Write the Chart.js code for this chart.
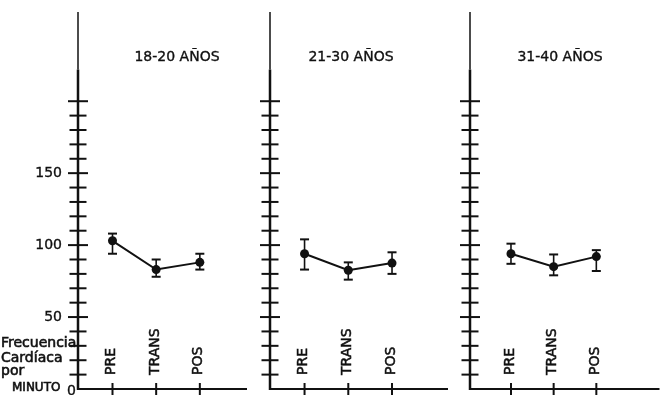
<!DOCTYPE html>
<html>
<head>
<meta charset="utf-8">
<script src="https://cdn.jsdelivr.net/npm/chart.js@4/dist/chart.umd.min.js"></script>
<style>
  html, body { margin: 0; padding: 0; background: #fff; }
  #wrap { position: relative; width: 664px; height: 395px; overflow: hidden; background: #fff; }
  canvas { position: absolute; top: 0; }
</style>
</head>
<body>
<div id="wrap">
  <canvas id="p1" width="258" height="395" style="left:0px"></canvas>
  <canvas id="p2" width="200" height="395" style="left:258px"></canvas>
  <canvas id="p3" width="206" height="395" style="left:458px"></canvas>
</div>
<script>
// Heart rate per minute (mean with low/high error limits) by phase and age group
const categories = ['PRE', 'TRANS', 'POS'];
const groups = ['18-20 AÑOS', '21-30 AÑOS', '31-40 AÑOS'];

const mean18 = [103, 83, 88];
const high18 = [108, 90, 94];
const low18  = [94, 78, 83];

const mean21 = [94, 82.5, 87.5];
const high21 = [104, 88, 95];
const low21  = [83, 76, 80];

const mean31 = [94, 85, 92];
const high31 = [101, 93.5, 96.5];
const low31  = [87, 79, 82];

const yTickMarks = [10, 20, 30, 40, 50, 60, 70, 80, 90, 100, 110, 120, 130, 140, 150, 160, 170, 180, 190, 200];
const yTickLabels = [0, 50, 100, 150];
const yAxisTitle = ['Frecuencia', 'Cardíaca', 'por', 'MINUTO'];

const INK = '#111';
const FONT = '"DejaVu Sans", sans-serif';

function seg(ctx, x1, y1, x2, y2) {
  ctx.beginPath();
  ctx.moveTo(x1, y1);
  ctx.lineTo(x2, y2);
  ctx.stroke();
}

// pen-lettered text: fill plus a thin outline for a slightly heavier stroke
function pen(ctx, text, x, y, w) {
  ctx.fillText(text, x, y);
  ctx.save();
  ctx.lineWidth = w || 0.35;
  ctx.strokeText(text, x, y);
  ctx.restore();
}

// Axes, tick marks, labels, group heading and error bars for one panel
const panelDecor = {
  id: 'panelDecor',
  beforeDatasetsDraw(chart, args, opts) {
    const { ctx, chartArea: a, scales: { x, y } } = chart;
    const x0 = a.left;
    ctx.save();
    ctx.strokeStyle = INK;
    ctx.fillStyle = INK;
    ctx.lineCap = 'butt';

    // vertical axis: fine upper stem, heavier lower part
    const yJoin = y.getPixelForValue(222);
    ctx.lineWidth = 1.5;
    seg(ctx, x0, a.top, x0, yJoin);
    ctx.lineWidth = 2.5;
    seg(ctx, x0, yJoin, x0, a.bottom + 1);

    // horizontal axis
    ctx.lineWidth = 2;
    seg(ctx, x0, a.bottom, a.right, a.bottom);

    // crossing tick marks on the vertical axis
    ctx.lineWidth = 2;
    yTickMarks.forEach(v => {
      const py = y.getPixelForValue(v);
      const half = v % 50 === 0 ? 10 : 8.5;
      seg(ctx, x0 - half, py, x0 + half, py);
    });

    // numeric labels (first panel only)
    if (opts.showYLabels) {
      ctx.font = '14px ' + FONT;
      ctx.textAlign = 'right';
      ctx.textBaseline = 'middle';
      yTickLabels.forEach(v => {
        if (v === 0) {
          pen(ctx, String(v), x0 - 2, y.getPixelForValue(v) + 2);
        } else {
          pen(ctx, String(v), x0 - 16, y.getPixelForValue(v));
        }
      });

      // axis title, stacked lines
      ctx.textAlign = 'left';
      ctx.font = '14px ' + FONT;
      pen(ctx, yAxisTitle[0], 1, 343, 0.6);
      pen(ctx, yAxisTitle[1], 1, 358, 0.6);
      pen(ctx, yAxisTitle[2], 1, 371, 0.6);
      ctx.font = '12px ' + FONT;
      pen(ctx, yAxisTitle[3], 12, 388, 0.6);
    }

    // category ticks and vertical labels
    ctx.lineWidth = 2;
    ctx.font = '14px ' + FONT;
    ctx.textAlign = 'left';
    ctx.textBaseline = 'middle';
    categories.forEach((c, i) => {
      const px = x.getPixelForValue(i + 1);
      seg(ctx, px, a.bottom - 6, px, a.bottom + 8);
      ctx.save();
      ctx.translate(px - 1, a.bottom - 14);
      ctx.rotate(-Math.PI / 2);
      pen(ctx, c, 0, 0, 0.5);
      ctx.restore();
    });

    // group heading
    ctx.font = '14px ' + FONT;
    ctx.textAlign = 'center';
    ctx.textBaseline = 'middle';
    pen(ctx, opts.title, x0 + opts.titleOffset, 57);

    // error bars
    ctx.lineWidth = 1.6;
    opts.low.forEach((lo, i) => {
      const px = x.getPixelForValue(i + 1);
      const pHi = y.getPixelForValue(opts.high[i]);
      const pLo = y.getPixelForValue(lo);
      seg(ctx, px, pHi, px, pLo);
      ctx.lineWidth = 2;
      seg(ctx, px - 4.5, pHi, px + 4.5, pHi);
      seg(ctx, px - 4.5, pLo, px + 4.5, pLo);
      ctx.lineWidth = 1.6;
    });

    ctx.restore();
  }
};

function makePanel(id, title, means, highs, lows, frame) {
  const points = means.map((v, i) => ({ x: i + 1, y: v }));
  return new Chart(document.getElementById(id), {
    type: 'line',
    data: {
      datasets: [{
        data: points,
        borderColor: INK,
        borderWidth: 2,
        pointRadius: 4.5,
        pointBackgroundColor: INK,
        pointBorderColor: INK,
        pointBorderWidth: 0,
        tension: 0,
        fill: false,
        clip: false
      }]
    },
    options: {
      responsive: false,
      animation: false,
      devicePixelRatio: 1,
      layout: { padding: { left: frame.left, right: frame.right, top: 12, bottom: 6 } },
      scales: {
        x: { type: 'linear', display: false, min: frame.xMin, max: frame.xMax },
        y: { type: 'linear', display: false, min: 0, max: 262 }
      },
      plugins: {
        legend: { display: false },
        tooltip: { enabled: false },
        panelDecor: {
          title: title,
          titleOffset: frame.titleOffset,
          showYLabels: frame.showYLabels,
          high: highs,
          low: lows
        }
      }
    },
    plugins: [panelDecor]
  });
}

makePanel('p1', groups[0], mean18, high18, low18,
  { left: 78, right: 11, xMin: 0.21, xMax: 4.08, titleOffset: 99, showYLabels: true });
makePanel('p2', groups[1], mean21, high21, low21,
  { left: 12, right: 10, xMin: 0.21, xMax: 4.28, titleOffset: 81, showYLabels: false });
makePanel('p3', groups[2], mean31, high31, low31,
  { left: 12, right: 0, xMin: 0.04, xMax: 4.48, titleOffset: 90, showYLabels: false });
</script>
</body>
</html>
